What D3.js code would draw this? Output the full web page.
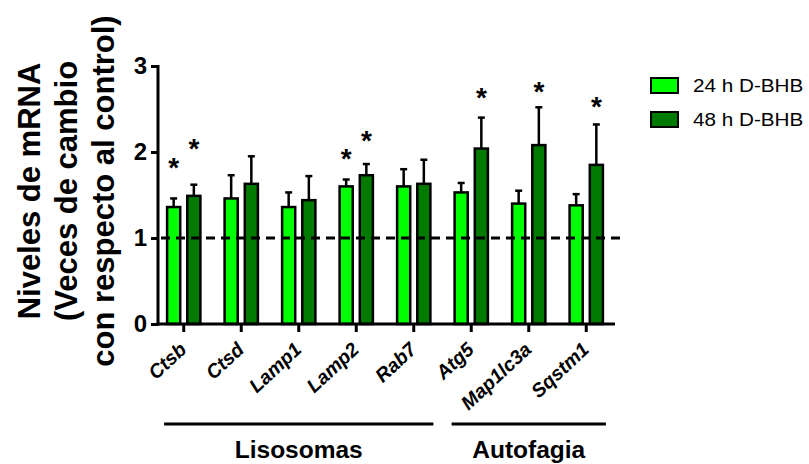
<!DOCTYPE html>
<html>
<head>
<meta charset="utf-8">
<script src="https://cdn.jsdelivr.net/npm/d3@7"></script>
<style>
  body { margin: 0; background: #fff; }
  svg { font-family: "Liberation Sans", Arial, sans-serif; }
</style>
</head>
<body>
<div id="chart"></div>
<script>
// valores
const genes = ["Ctsb", "Ctsd", "Lamp1", "Lamp2", "Rab7", "Atg5", "Map1lc3a", "Sqstm1"];
const series = ["24 h D-BHB", "48 h D-BHB"];
const mean24 = [1.36, 1.46, 1.36, 1.60, 1.60, 1.53, 1.40, 1.38];
const err24 = [0.10, 0.27, 0.17, 0.08, 0.20, 0.11, 0.15, 0.13];
const mean48 = [1.49, 1.63, 1.44, 1.73, 1.63, 2.04, 2.08, 1.85];
const err48 = [0.13, 0.32, 0.28, 0.13, 0.28, 0.36, 0.44, 0.47];
// altura de los asteriscos (en unidades del eje), null = sin asterisco
const star24 = [1.90, null, null, 2.00, null, null, null, null];
const star48 = [2.12, null, null, 2.21, null, 2.71, 2.78, 2.60];
const yTicks = [0, 1, 2, 3];
const groups = [
  { name: "Lisosomas", from: "Ctsb", to: "Rab7" },
  { name: "Autofagia", from: "Atg5", to: "Sqstm1" }
];
const yTitle = ["Niveles de mRNA", "(Veces de cambio", "con respecto al control)"];
const colors = ["#00ff00", "#007a00"];

const W = 809, H = 464;
const svg = d3.select("#chart").append("svg").attr("width", W).attr("height", H);

const x0 = d3.scaleBand().domain(genes).range([155, 615]).padding(0);
const x1 = d3.scaleBand().domain(series).range([0, x0.bandwidth()])
  .paddingInner(0.35).paddingOuter(0.6);
const y = d3.scaleLinear().domain([0, 3]).range([324, 66]);

const rows = [];
genes.forEach((g, i) => {
  rows.push({ gene: g, s: series[0], v: mean24[i], e: err24[i], star: star24[i], c: colors[0] });
  rows.push({ gene: g, s: series[1], v: mean48[i], e: err48[i], star: star48[i], c: colors[1] });
});
const bx = d => x0(d.gene) + x1(d.s);
const bw = x1.bandwidth();

// barras de error (solo hacia arriba)
const err = svg.append("g").attr("stroke", "#000").attr("stroke-width", 2.5);
err.selectAll("line.v").data(rows).join("line")
  .attr("x1", d => bx(d) + bw / 2).attr("x2", d => bx(d) + bw / 2)
  .attr("y1", d => y(d.v)).attr("y2", d => y(d.v + d.e));
err.selectAll("line.cap").data(rows).join("line")
  .attr("x1", d => bx(d) + bw / 2 - 3.5).attr("x2", d => bx(d) + bw / 2 + 3.5)
  .attr("y1", d => y(d.v + d.e)).attr("y2", d => y(d.v + d.e));

// barras
svg.append("g").selectAll("rect").data(rows).join("rect")
  .attr("x", bx).attr("width", bw)
  .attr("y", d => y(d.v)).attr("height", d => y(0) - y(d.v))
  .attr("fill", d => d.c).attr("stroke", "#000").attr("stroke-width", 2.5);

// linea de referencia en 1
svg.append("line")
  .attr("x1", 161).attr("x2", 622).attr("y1", y(1)).attr("y2", y(1))
  .attr("stroke", "#000").attr("stroke-width", 3).attr("stroke-dasharray", "9,6");

// asteriscos
svg.append("g").selectAll("text").data(rows.filter(d => d.star != null)).join("text")
  .attr("x", d => bx(d) + bw / 2).attr("y", d => y(d.star) + 16)
  .attr("text-anchor", "middle").attr("font-size", 28).attr("font-weight", "bold")
  .text("*");

// eje y
const yAxis = svg.append("g").attr("transform", "translate(158,0)")
  .call(d3.axisLeft(y).tickValues(yTicks).tickFormat(d3.format("d")).tickSize(7).tickPadding(4));
yAxis.select(".domain").attr("stroke-width", 3).attr("d", "M0," + (y(3) - 1) + "V" + (y(0) + 1.5));
yAxis.selectAll(".tick line").attr("stroke-width", 3);
yAxis.selectAll(".tick text").attr("font-size", 24).attr("font-weight", "bold")
  .attr("font-family", "Liberation Sans, Arial, sans-serif").attr("fill", "#000");

// eje x
const xAxis = svg.append("g").attr("transform", "translate(0," + y(0) + ")")
  .call(d3.axisBottom(x0).tickSize(8).tickFormat(""));
xAxis.select(".domain").attr("stroke-width", 3).attr("d", "M156.5,0H615");
xAxis.selectAll(".tick line").attr("stroke-width", 3);

svg.append("g").selectAll("text").data(genes).join("text")
  .attr("transform", g => "translate(" + (x0(g) + x0.bandwidth() / 2 + 4) + ",351) rotate(-43)")
  .attr("text-anchor", "end").attr("font-size", 19.5).attr("font-weight", "bold")
  .attr("font-style", "italic").text(g => g);

// grupos
groups.forEach(gr => {
  const a = x0(gr.from) + x1(series[0]) - 3;
  const b = x0(gr.to) + x1(series[1]) + bw + 3;
  svg.append("line").attr("x1", a).attr("x2", b).attr("y1", 424).attr("y2", 424)
    .attr("stroke", "#000").attr("stroke-width", 3);
  svg.append("text").attr("x", (a + b) / 2).attr("y", 458)
    .attr("text-anchor", "middle").attr("font-size", 24.5).attr("font-weight", "bold")
    .text(gr.name);
});

// titulo eje y
svg.append("g").selectAll("text").data(yTitle).join("text")
  .attr("transform", (t, i) => "translate(" + (40 + i * 37) + ",191) rotate(-90)")
  .attr("text-anchor", "middle").attr("font-size", 31).attr("font-weight", "bold")
  .text(t => t);

// leyenda
const leg = svg.append("g").selectAll("g").data(series).join("g")
  .attr("transform", (s, i) => "translate(651," + (78 + i * 34) + ")");
leg.append("rect").attr("width", 27).attr("height", 15)
  .attr("fill", (s, i) => colors[i]).attr("stroke", "#000").attr("stroke-width", 2);
leg.append("text").attr("transform", "translate(42,14) scale(1.15,1)")
  .attr("font-size", 18).text(s => s);
</script>
</body>
</html>
